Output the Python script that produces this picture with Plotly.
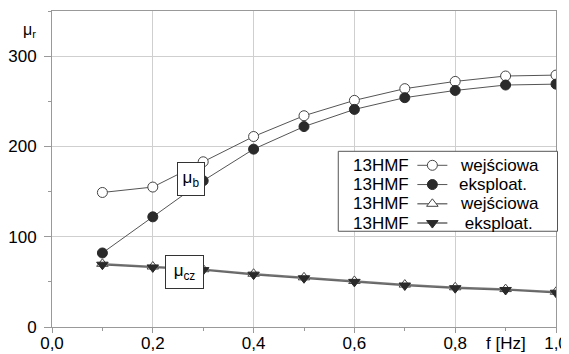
import plotly.graph_objects as go

f_hz = [0.1, 0.2, 0.3, 0.4, 0.5, 0.6, 0.7, 0.8, 0.9, 1.0]
mub_wej = [149, 155, 183, 211, 234, 251, 264, 272, 278, 279]
mub_eks = [82, 122, 162, 197, 222, 241, 254, 262, 268, 269]
mucz_wej = [70, 67, 64, 59, 55, 51, 47, 44, 42, 39]
mucz_eks = [69, 66, 63, 58, 54, 50, 46, 43, 41, 38]
legend_prefix = "13HMF"
legend_names = ["wejściowa", "eksploat.", "wejściowa", "\u00a0eksploat."]
x_ticks = [0.0, 0.2, 0.4, 0.6, 0.8, 1.0]
y_ticks = [0, 100, 200, 300]

FONT = "Liberation Sans, Arial, sans-serif"
dark = "#2a2a2a"
TXT = 17
BLANK = "\u00a0"

fig = go.Figure()
fig.add_trace(go.Scatter(x=f_hz, y=mub_wej, name=BLANK, hovertext=legend_names[0], mode="lines+markers",
                         line=dict(color="#555", width=1),
                         marker=dict(symbol="circle", size=10, color="white",
                                     line=dict(color="#444", width=1))))
fig.add_trace(go.Scatter(x=f_hz, y=mub_eks, name=BLANK, hovertext=legend_names[1], mode="lines+markers",
                         line=dict(color="#555", width=1),
                         marker=dict(symbol="circle", size=10, color=dark,
                                     line=dict(color=dark, width=1))))
fig.add_trace(go.Scatter(x=f_hz, y=mucz_wej, name=BLANK, hovertext=legend_names[2], mode="lines+markers",
                         line=dict(color="#777", width=1.5),
                         marker=dict(symbol="triangle-up", size=10, color="white",
                                     line=dict(color="#444", width=1))))
fig.add_trace(go.Scatter(x=f_hz, y=mucz_eks, name=BLANK, hovertext=legend_names[3], mode="lines+markers",
                         line=dict(color="#666", width=1.5),
                         marker=dict(symbol="triangle-down", size=10, color=dark,
                                     line=dict(color=dark, width=1))))

# legend frame
fig.add_shape(type="rect", xref="paper", yref="paper", x0=0.568, x1=1.003, y0=0.303, y1=0.556,
              line=dict(color="#555", width=1), fillcolor="white", layer="above")

row_y = [0.5117, 0.4508, 0.3899, 0.3290]
name_x = [0.806, 0.804, 0.806, 0.806]
annotations = []
for yy, nm, nx in zip(row_y, legend_names, name_x):
    annotations.append(dict(text=legend_prefix, xref="paper", yref="paper", x=0.713, y=yy,
                            xanchor="right", yanchor="middle", showarrow=False,
                            font=dict(size=TXT, color="black", family=FONT)))
    annotations.append(dict(text=nm, xref="paper", yref="paper", x=nx, y=yy,
                            xanchor="left", yanchor="middle", showarrow=False,
                            font=dict(size=TXT, color="black", family=FONT)))

annotations += [
    dict(text="μ<sub>b</sub>", x=0.275, y=164, xref="x", yref="y", showarrow=False,
         xanchor="center", yanchor="middle",
         bgcolor="white", bordercolor="#333", borderwidth=1, borderpad=2, width=22, height=28,
         font=dict(size=TXT, color="black", family=FONT)),
    dict(text="μ<sub>cz</sub>", x=0.262, y=61, xref="x", yref="y", showarrow=False,
         xanchor="center", yanchor="middle",
         bgcolor="white", bordercolor="#333", borderwidth=1, borderpad=2, width=33, height=28,
         font=dict(size=TXT, color="black", family=FONT)),
    dict(text="μ<sub>r</sub>", xref="paper", yref="paper", x=-0.044, y=0.939, showarrow=False,
         xanchor="center", yanchor="middle",
         font=dict(size=16, color="black", family=FONT)),
    dict(text="f [Hz]", xref="paper", yref="paper", x=0.90, y=-0.052, showarrow=False,
         xanchor="center", yanchor="middle",
         font=dict(size=TXT, color="black", family=FONT)),
]

# page body has an 8px margin, so the figure is 8px smaller and margins shifted
fig.update_layout(
    width=561, height=346,
    margin=dict(l=44, r=13, t=3, b=27, autoexpand=False),
    plot_bgcolor="white", paper_bgcolor="white",
    separators=", ",
    font=dict(family=FONT, size=TXT, color="black"),
    showlegend=True,
    legend=dict(x=0.715, y=0.558, xanchor="left", yanchor="top",
                bgcolor="rgba(0,0,0,0)", borderwidth=0,
                font=dict(size=12.5, family=FONT, color="black"),
                tracegroupgap=0),
    annotations=annotations,
)
fig.update_xaxes(range=[0, 1.0], tickvals=x_ticks, tickformat=".1f",
                 showgrid=True, gridcolor="#cfcfcf", gridwidth=1,
                 showline=True, linecolor="#999", linewidth=1, mirror=True,
                 ticks="outside", ticklen=5, tickcolor="#999",
                 minor=dict(dtick=0.1, ticks="outside", ticklen=3, tickcolor="#999", showgrid=False),
                 zeroline=False, tickfont=dict(size=TXT), ticklabelstandoff=-4)
fig.update_yaxes(range=[0, 350], tickvals=y_ticks,
                 showgrid=True, gridcolor="#cfcfcf", gridwidth=1,
                 showline=True, linecolor="#999", linewidth=1, mirror=True,
                 ticks="outside", ticklen=7, tickcolor="#999",
                 minor=dict(dtick=50, ticks="outside", ticklen=3, tickcolor="#999", showgrid=False),
                 zeroline=False, tickfont=dict(size=TXT), ticklabelstandoff=4)

fig.write_html("out.html")
